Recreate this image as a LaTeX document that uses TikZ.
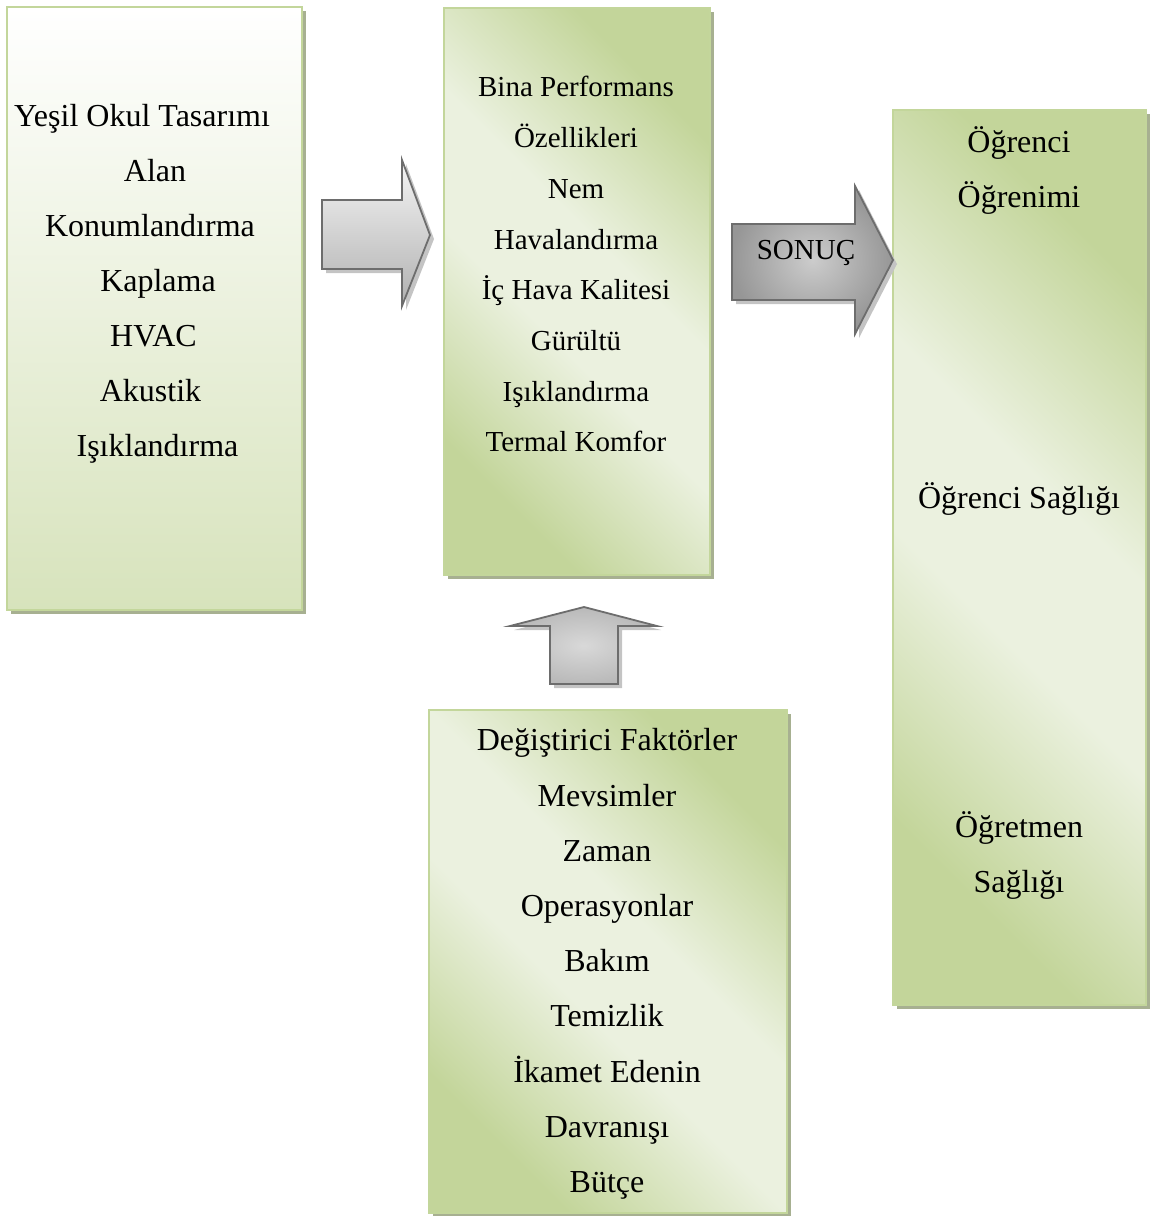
\documentclass[tikz,border=0pt]{standalone}
\usepackage{fontspec}
\setmainfont{Liberation Serif}
\usetikzlibrary{shadows}
\definecolor{boxedge}{HTML}{C3D69B}
\definecolor{boxshadow}{HTML}{A7B091}
\definecolor{gdark}{HTML}{C3D59A}
\definecolor{glight}{HTML}{EBF1DF}
\definecolor{gbottom}{HTML}{D7E3BC}
\definecolor{arrowedge}{HTML}{6D6D6D}
\definecolor{arrowshadow}{HTML}{C4C4C4}
\pgfdeclareverticalshading{greendiag}{100bp}{color(0bp)=(gdark); color(26bp)=(gdark); color(44bp)=(glight); color(56bp)=(glight); color(74bp)=(gdark); color(100bp)=(gdark)}
\tikzset{
  greenbox/.style={draw=boxedge, line width=1.8pt, inner sep=0pt,
    drop shadow={shadow xshift=4pt, shadow yshift=-4pt, fill=boxshadow, opacity=1}},
  diagfill/.style={shading=greendiag, shading angle=-45},
  vertfill/.style={top color=white, bottom color=gbottom},
  blockarrow/.style={draw=arrowedge, line width=1.8pt, line join=miter,
    drop shadow={shadow xshift=4pt, shadow yshift=-4pt, fill=arrowshadow, opacity=1}},
  txt/.style={anchor=base, inner sep=0pt, font=\fontsize{32}{38}\selectfont},
  txtm/.style={anchor=base, inner sep=0pt, font=\fontsize{29}{35}\selectfont},
}
\begin{document}
\begin{tikzpicture}[x=1pt, y=-1pt]
\useasboundingbox (0,0) rectangle (1156,1216);
% boxes
\node[greenbox, vertfill, minimum width=295pt, minimum height=603pt] (L) at (154.5,308.5) {};
\node[greenbox, diagfill, minimum width=266pt, minimum height=567pt] (M) at (577,291.5) {};
\node[greenbox, diagfill, minimum width=253pt, minimum height=895pt] (R) at (1019.5,557.5) {};
\node[greenbox, diagfill, minimum width=358pt, minimum height=503pt] (B) at (608,961.5) {};
% arrows
\path[blockarrow, top color=gray!8, bottom color=gray!62]
  (322,200) -- (402,200) -- (402,160) -- (430,235) -- (402,306) -- (402,269) -- (322,269) -- cycle;
\path[blockarrow, inner color=gray!40, outer color=gray!82]
  (732,224) -- (855,224) -- (855,186) -- (893,260) -- (855,334) -- (855,300) -- (732,300) -- cycle;
\path[blockarrow, inner color=gray!30, outer color=gray!55]
  (584,607) -- (657,626) -- (618,626) -- (618,684) -- (550,684) -- (550,626) -- (510,626) -- cycle;
\node[txtm] (sonuc) at (806,259) {SONUÇ};
% left box text
\node[txt] (l1) at (142,126) {Yeşil Okul Tasarımı};
\node[txt] (l2) at (155,181) {Alan};
\node[txt] (l3) at (150,236) {Konumlandırma};
\node[txt] (l4) at (158,291) {Kaplama};
\node[txt] (l5) at (153.5,346) {HVAC};
\node[txt] (l6) at (150.5,401) {Akustik};
\node[txt] (l7) at (157.5,456) {Işıklandırma};
% middle box text
\node[txtm] (m1) at (576,96) {Bina Performans};
\node[txtm] (m2) at (576,147) {Özellikleri};
\node[txtm] (m3) at (576,198) {Nem};
\node[txtm] (m4) at (576,249) {Havalandırma};
\node[txtm] (m5) at (576,299) {İç Hava Kalitesi};
\node[txtm] (m6) at (576,350) {Gürültü};
\node[txtm] (m7) at (576,401) {Işıklandırma};
\node[txtm] (m8) at (576,451) {Termal Komfor};
% bottom box text
\node[txt] (b1) at (607,750) {Değiştirici Faktörler};
\node[txt] (b2) at (607,806) {Mevsimler};
\node[txt] (b3) at (607,861) {Zaman};
\node[txt] (b4) at (607,916) {Operasyonlar};
\node[txt] (b5) at (607,971) {Bakım};
\node[txt] (b6) at (607,1026) {Temizlik};
\node[txt] (b7) at (607,1082) {İkamet Edenin};
\node[txt] (b8) at (607,1137) {Davranışı};
\node[txt] (b9) at (607,1192) {Bütçe};
% right box text
\node[txt] (r1) at (1019,152) {Öğrenci};
\node[txt] (r2) at (1019,207) {Öğrenimi};
\node[txt] (r3) at (1019,508) {Öğrenci Sağlığı};
\node[txt] (r4) at (1019,837) {Öğretmen};
\node[txt] (r5) at (1019,892) {Sağlığı};
\end{tikzpicture}
\end{document}
